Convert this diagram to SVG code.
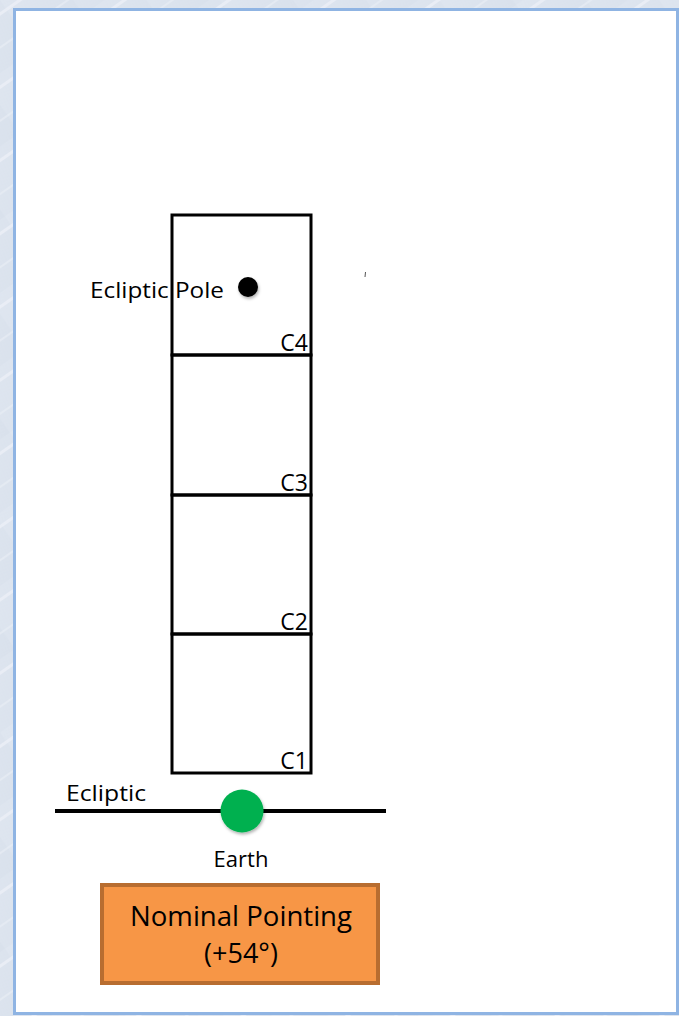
<svg xmlns="http://www.w3.org/2000/svg" width="679" height="1016" viewBox="0 0 679 1016">
  <defs>
    <linearGradient id="bg" x1="0" y1="0" x2="1" y2="1">
      <stop offset="0" stop-color="#dfe6f0"/>
      <stop offset="1" stop-color="#d9e1ec"/>
    </linearGradient>
    <pattern id="streaks" width="60" height="60" patternUnits="userSpaceOnUse" patternTransform="rotate(-35)">
      <rect width="60" height="60" fill="url(#bg)"/>
      <rect x="0" y="10" width="60" height="3" fill="#eef2f8" opacity="0.7"/>
      <rect x="0" y="38" width="60" height="2" fill="#e9eef5" opacity="0.6"/>
    </pattern>
    <filter id="soft" x="-50%" y="-50%" width="200%" height="200%">
      <feDropShadow dx="1" dy="2" stdDeviation="1.5" flood-color="#000" flood-opacity="0.3"/>
    </filter>
  </defs>
  <style>
    .lbl { font-family: "Open Sans", "Liberation Sans", sans-serif; fill: #000; }
    .cell { fill: none; stroke: #000; stroke-width: 3; }
    .cid { font-size: 23px; text-anchor: end; }
  </style>

  <!-- page background and white panel -->
  <rect width="679" height="1016" fill="url(#streaks)"/>
  <rect x="14.5" y="9.5" width="663" height="1004" fill="#fff" stroke="#8fb4e3" stroke-width="3"/>

  <!-- stacked field cells C1..C4 -->
  <g id="cell-c4">
    <rect class="cell" x="172" y="215" width="139" height="140"/>
    <text class="lbl cid" x="308" y="351">C4</text>
  </g>
  <g id="cell-c3">
    <rect class="cell" x="172" y="355" width="139" height="140"/>
    <text class="lbl cid" x="308" y="491">C3</text>
  </g>
  <g id="cell-c2">
    <rect class="cell" x="172" y="495" width="139" height="139"/>
    <text class="lbl cid" x="308" y="630">C2</text>
  </g>
  <g id="cell-c1">
    <rect class="cell" x="172" y="634" width="139" height="139"/>
    <text class="lbl cid" x="308" y="769">C1</text>
  </g>

  <!-- ecliptic pole marker -->
  <g id="ecliptic-pole">
    <circle cx="248" cy="287" r="10" fill="#000" filter="url(#soft)"/>
    <text class="lbl" x="90" y="298" font-size="22" textLength="134" lengthAdjust="spacingAndGlyphs">Ecliptic Pole</text>
  </g>

  <!-- stray tick mark -->
  <line x1="365.5" y1="272" x2="365" y2="277" stroke="#555" stroke-width="1"/>

  <!-- ecliptic line -->
  <g id="ecliptic">
    <line x1="55" y1="811" x2="386" y2="811" stroke="#000" stroke-width="4"/>
    <text class="lbl" x="66" y="801" font-size="22" textLength="80" lengthAdjust="spacingAndGlyphs">Ecliptic</text>
  </g>

  <!-- earth -->
  <g id="earth">
    <circle cx="242" cy="811" r="21.5" fill="#00b050" filter="url(#soft)"/>
    <text class="lbl" x="241" y="867" font-size="22" text-anchor="middle">Earth</text>
  </g>

  <!-- pointing caption -->
  <g id="nominal-pointing">
    <rect x="102" y="885" width="276" height="98" fill="#f79646" stroke="#b86d30" stroke-width="4"/>
    <text class="lbl" x="241" y="926" font-size="27" text-anchor="middle" textLength="222" lengthAdjust="spacingAndGlyphs">Nominal Pointing</text>
    <text class="lbl" x="241" y="963" font-size="27" text-anchor="middle">(+54°)</text>
  </g>
</svg>
